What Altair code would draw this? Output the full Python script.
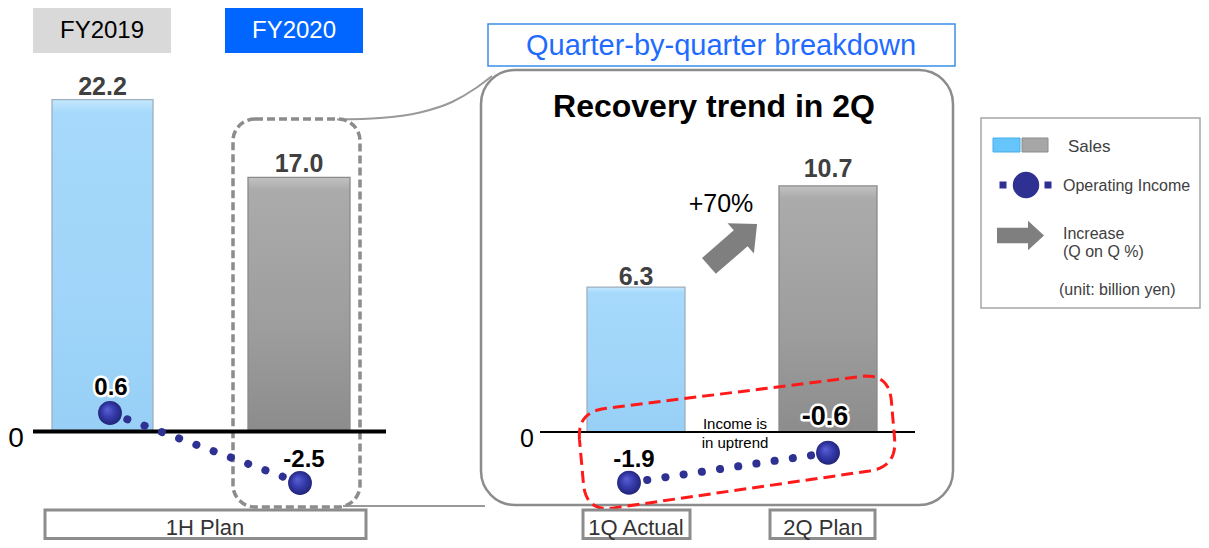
import altair as alt
import numpy as np
import pandas as pd

# ---------------- data ----------------
half_labels = ["FY2019", "FY2020"]
half_sales = [22.2, 17.0]
half_income = [0.6, -2.5]
half_period = ["1H Plan"]
q_labels = ["1Q Actual", "2Q Plan"]
q_sales = [6.3, 10.7]
q_income = [-1.9, -0.6]
q_increase = ["+70%"]
panel_texts = ["Quarter-by-quarter breakdown", "Recovery trend in 2Q"]
note_lines = ["Income is", "in uptrend"]
zero_label = ["0"]
legend_texts = ["Sales", "Operating Income", "Increase", "(Q on Q %)", "(unit: billion yen)"]

# ---------------- layout / styles ----------------
W, H = 1193, 532
TOP, BOT = 8, 8 + H
LEFT, RIGHT = 8, 8 + W
FONT = "Liberation Sans"
NAVY = "#2E3192"
GS = alt.GradientStop

BLUE_G = alt.LinearGradient(gradient="linear", x1=0, x2=0, y1=0, y2=1,
                            stops=[GS(color="#C4E8FE", offset=0), GS(color="#A6D9FB", offset=0.04),
                                   GS(color="#A0D5F9", offset=0.6), GS(color="#97CFF6", offset=1)])
GRAY_G = alt.LinearGradient(gradient="linear", x1=0, x2=0, y1=0, y2=1,
                            stops=[GS(color="#C2C2C2", offset=0), GS(color="#ABABAB", offset=0.05),
                                   GS(color="#9D9D9D", offset=0.6), GS(color="#8C8C8C", offset=1)])
DOT_G = alt.RadialGradient(gradient="radial", x1=0.38, y1=0.34, r1=0, x2=0.5, y2=0.5, r2=0.55,
                           stops=[GS(color="#5A60D4", offset=0), GS(color="#3338A8", offset=0.55),
                                  GS(color="#1E216F", offset=1)])
ARROW = "M-1,-0.33L0.32,-0.33L0.32,-0.63L1,0L0.32,0.63L0.32,0.33L-1,0.33Z"

XS = alt.Scale(domain=[LEFT, RIGHT], nice=False, zero=False)
YS = alt.Scale(domain=[TOP, BOT], reverse=True, nice=False, zero=False)


def vscale(zero_px, ppu):
    return alt.Scale(domain=[(zero_px - BOT) / ppu, (zero_px - TOP) / ppu], nice=False, zero=False)


LS = vscale(431.5, 14.95)   # left panel sales
RS = vscale(432.0, 23.0)    # right panel sales
LI = vscale(426.5, 22.6)    # left panel income
RI = vscale(439.0, 23.0)    # right panel income


def px(f="x"):
    return alt.X(f"{f}:Q", scale=XS, axis=None)


def py(f="y"):
    return alt.Y(f"{f}:Q", scale=YS, axis=None)


layers = []


def rect(x, x2, y, y2, **mk):
    df = pd.DataFrame({"x": [x], "x2": [x2], "y": [y], "y2": [y2]})
    layers.append(alt.Chart(df).mark_rect(**mk).encode(x=px(), x2="x2:Q", y=py(), y2="y2:Q"))


def text(s, x, y, size, color="#000000", weight="normal", align="center"):
    df = pd.DataFrame({"x": [x], "y": [y], "t": [s]})
    layers.append(alt.Chart(df).mark_text(font=FONT, fontSize=size, fontWeight=weight, align=align,
                                          baseline="alphabetic", color=color)
                  .encode(x=px(), y=py(), text="t:N"))


def path(points, **mk):
    df = pd.DataFrame({"x": [p[0] for p in points], "y": [p[1] for p in points],
                       "i": list(range(len(points)))})
    layers.append(alt.Chart(df).mark_line(**mk).encode(x=px(), y=py(), order="i:Q"))


def rounded_poly(corners, r, n=14):
    c = np.array(corners, float)
    pts = []
    for i in range(len(c)):
        p0, p1, p2 = c[i - 1], c[i], c[(i + 1) % len(c)]
        a = p1 + (p0 - p1) / np.linalg.norm(p0 - p1) * r
        b = p1 + (p2 - p1) / np.linalg.norm(p2 - p1) * r
        for t in np.linspace(0, 1, n):
            pts.append(tuple((1 - t) ** 2 * a + 2 * (1 - t) * t * p1 + t ** 2 * b))
    pts.append(pts[0])
    return pts


# ---------------- header boxes ----------------
rect(33, 171, TOP, 53, color="#D9D9D9")
text(half_labels[0], 102, 38, 24, "#000000")
rect(225, 363, TOP, 53, color="#0066FF")
text(half_labels[1], 294, 38, 24, "#FFFFFF")

rect(488, 955, 24, 66, fill="white", stroke="#3D8EEA", strokeWidth=1.5)
text(panel_texts[0], 721, 55, 29, "#1F6BFF")

# connectors and zoom panel
path([(337, 119.5), (380, 118), (420, 112.5), (452, 102), (476, 88), (492, 76)],
     color="#999999", strokeWidth=2, interpolate="monotone")
path([(343, 506), (485, 506)], color="#999999", strokeWidth=2)
rect(481, 953, 70, 505, fill="white", fillOpacity=0, stroke="#8C8C8C", strokeWidth=2.5, cornerRadius=34)
text(panel_texts[1], 714, 117, 32, "#000000", "bold")

# ---------------- bars ----------------
def bar_layer(value, x0, x1, grad, stroke, scale):
    df = pd.DataFrame({"v": [value], "z": [0], "x": [x0], "x2": [x1]})
    return (alt.Chart(df).mark_rect(color=grad, stroke=stroke, strokeWidth=1.3)
            .encode(x=px(), x2="x2:Q", y=alt.Y("v:Q", scale=scale, axis=None), y2="z:Q"))


layers.append(bar_layer(half_sales[0], 52, 153, BLUE_G, "#9EB0BE", LS))
layers.append(bar_layer(half_sales[1], 248, 350, GRAY_G, "#8A8A8A", LS))
layers.append(bar_layer(q_sales[0], 587, 685, BLUE_G, "#9EB0BE", RS))
layers.append(bar_layer(q_sales[1], 779, 877, GRAY_G, "#8A8A8A", RS))

# dashed highlight around FY2020 1H
rect(233, 360, 119, 507, fill="white", fillOpacity=0, stroke="#8C8C8C", strokeWidth=3.5,
     strokeDash=[8, 4], cornerRadius=22)


# zero lines
def zero_rule(x0, x1, scale, width):
    df = pd.DataFrame({"x": [x0], "x2": [x1], "z": [0]})
    return (alt.Chart(df).mark_rule(color="#000000", strokeWidth=width)
            .encode(x=px(), x2="x2:Q", y=alt.Y("z:Q", scale=scale, axis=None)))


layers.append(zero_rule(33, 386, LS, 4))
layers.append(zero_rule(540, 915, RS, 2))
text(zero_label[0], 16, 446.5, 28, "#000000")
text(zero_label[0], 527, 446.5, 25, "#000000")


# bar value labels
def value_label(value, xc, scale, dy, size, color, halo=False):
    df = pd.DataFrame({"x": [xc], "v": [value], "t": [f"{value:.1f}"]})
    base = alt.Chart(df).encode(x=px(), y=alt.Y("v:Q", scale=scale, axis=None), text="t:N")
    kw = dict(font=FONT, fontSize=size, fontWeight="bold", align="center", baseline="alphabetic", dy=dy)
    out = []
    if halo:
        out.append(base.mark_text(color="white", stroke="white", strokeWidth=5, strokeJoin="round", **kw))
    out.append(base.mark_text(color=color, **kw))
    return out


layers += value_label(half_sales[0], 102.5, LS, -5, 25, "#404040")
layers += value_label(half_sales[1], 299, LS, -5.5, 25, "#404040")
layers += value_label(q_sales[0], 636, RS, -2.5, 25, "#404040")
layers += value_label(q_sales[1], 828, RS, -9, 25, "#404040")

# growth arrow
arrow_df = pd.DataFrame({"x": [733], "y": [245]})
layers.append(alt.Chart(arrow_df).mark_point(shape=ARROW, filled=True, size=4070, angle=319,
                                             color="#7F7F7F", opacity=1, strokeWidth=0)
              .encode(x=px(), y=py()))
text(q_increase[0], 721, 211.5, 25, "#000000")

# red dashed highlight of the income trend
path(rounded_poly([(577, 412), (889, 373), (897, 467), (586, 512)], 28),
     color="#FF1A1A", strokeWidth=3, strokeDash=[12, 6])


# ---------------- operating income ----------------
def income_layers(values, xs, scale):
    df = pd.DataFrame({"x": xs, "v": values})
    enc = dict(x=px(), y=alt.Y("v:Q", scale=scale, axis=None))
    line = alt.Chart(df).mark_line(color=NAVY, strokeWidth=8, strokeCap="round",
                                   strokeDash=[0.1, 18.3]).encode(**enc)
    dots = alt.Chart(df).mark_circle(size=570, fill=DOT_G, opacity=1, strokeWidth=0).encode(**enc)
    return [line, dots]


layers += income_layers(half_income, [110, 300], LI)
layers += income_layers(q_income, [629, 828], RI)

layers += value_label(half_income[0], 111, LI, -18, 24, "#000000", halo=True)
layers += value_label(half_income[1], 304, LI, -16, 24, "#000000", halo=True)
layers += value_label(q_income[0], 634, RI, -16, 24, "#000000", halo=True)
layers += value_label(q_income[1], 825, RI, -28, 27, "#000000", halo=True)

text(note_lines[0], 735, 429, 15, "#000000")
text(note_lines[1], 735, 448, 15, "#000000")

# ---------------- period boxes ----------------
rect(45, 366, 510, 538.5, fill="white", stroke="#8C8C8C", strokeWidth=3)
text(half_period[0], 205, 535, 22, "#333333")
rect(583, 690, 510, 538.5, fill="white", stroke="#8C8C8C", strokeWidth=3)
text(q_labels[0], 636, 535, 22, "#333333")
rect(770, 875, 510, 538.5, fill="white", stroke="#8C8C8C", strokeWidth=3)
text(q_labels[1], 823, 535, 22, "#333333")

# ---------------- legend ----------------
rect(981, 1200, 118, 308, fill="white", stroke="#A6A6A6", strokeWidth=1.5)
rect(993, 1020, 138, 152, fill="#66C6FB", stroke="#44AEEB", strokeWidth=1)
rect(1022, 1048, 138, 152, fill="#A6A6A6", stroke="#8C8C8C", strokeWidth=1)
sq_df = pd.DataFrame({"x": [1003, 1048], "y": [185, 185]})
layers.append(alt.Chart(sq_df).mark_square(size=49, color=NAVY, opacity=1).encode(x=px(), y=py()))
c_df = pd.DataFrame({"x": [1026], "y": [185]})
layers.append(alt.Chart(c_df).mark_circle(size=700, color=NAVY, opacity=1).encode(x=px(), y=py()))
la_df = pd.DataFrame({"x": [1020.5], "y": [235.5]})
layers.append(alt.Chart(la_df).mark_point(shape=ARROW, filled=True, size=2209, color="#7F7F7F",
                                          opacity=1, strokeWidth=0).encode(x=px(), y=py()))
text(legend_texts[0], 1068, 151.5, 17, "#404040", align="left")
text(legend_texts[1], 1063, 191, 16, "#404040", align="left")
text(legend_texts[2], 1063, 238.5, 16, "#404040", align="left")
text(legend_texts[3], 1063, 257, 16, "#404040", align="left")
text(legend_texts[4], 1059, 295, 16, "#404040", align="left")

chart = (alt.layer(*layers)
         .resolve_scale(x="independent", y="independent")
         .properties(width=W, height=H, padding=0, background="white",
                     autosize=alt.AutoSizeParams(type="none"))
         .configure_view(stroke=None))

chart.save("out.html", embed_options={"renderer": "svg", "actions": False})
